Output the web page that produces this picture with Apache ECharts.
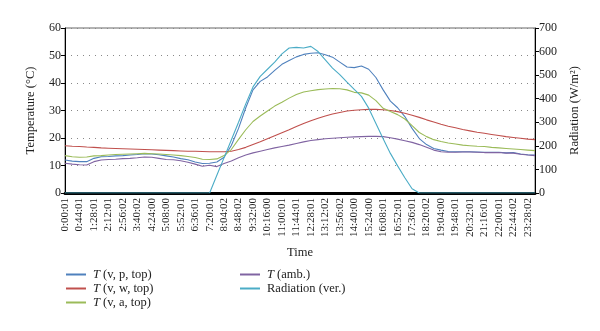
<!DOCTYPE html>
<html>
<head>
<meta charset="utf-8">
<script src="https://cdn.jsdelivr.net/npm/echarts@6/dist/echarts.min.js"></script>
<style>html,body{margin:0;padding:0;background:#fff}#c{width:600px;height:331px}</style>
</head>
<body>
<div id="c"></div>
<script>
// Time categories (22-minute steps); every other one is printed as a tick label
var categories = ["0:00:01","0:22:01","0:44:01","1:06:01","1:28:01","1:50:01","2:12:01","2:34:01","2:56:02","3:18:02","3:40:02","4:02:02","4:24:00","4:46:00","5:08:00","5:30:00","5:52:01","6:14:01","6:36:01","6:58:01","7:20:01","7:42:01","8:04:02","8:26:02","8:48:02","9:10:02","9:32:00","9:54:00","10:16:00","10:38:00","11:00:01","11:22:01","11:44:01","12:06:01","12:28:01","12:50:01","13:12:02","13:34:02","13:56:02","14:18:02","14:40:00","15:02:00","15:24:00","15:46:00","16:08:01","16:30:01","16:52:01","17:14:01","17:36:01","17:58:01","18:20:02","18:42:02","19:04:00","19:26:00","19:48:01","20:10:01","20:32:01","20:54:01","21:16:01","21:38:01","22:00:01","22:22:01","22:44:02","23:06:02","23:28:02","23:50:02"];

var tempTicks = [0, 10, 20, 30, 40, 50, 60];
var radTicks = [0, 100, 200, 300, 400, 500, 600, 700];

// T (v, p, top)
var tvp = [12.0,11.6,11.4,11.4,12.6,13.2,13.3,13.5,13.6,13.8,14.0,14.3,14.2,13.9,13.5,13.1,12.5,12.1,11.3,10.7,10.8,11.3,13.0,17.3,23.5,31.0,37.5,40.6,42.2,44.6,46.8,48.2,49.5,50.4,50.8,51.0,50.3,49.4,47.6,45.8,45.6,46.2,45.0,42.0,37.5,33.4,31.0,27.8,23.5,19.8,17.6,16.2,15.6,15.1,15.0,15.0,15.0,14.9,14.8,14.8,14.8,14.6,14.7,14.2,13.9,13.8];
// T (v, w, top)
var tvw = [17.2,17.0,16.9,16.7,16.6,16.4,16.3,16.2,16.1,16.0,15.9,15.8,15.7,15.6,15.5,15.4,15.3,15.2,15.2,15.1,15.0,15.0,15.0,15.2,15.8,16.6,17.6,18.6,19.7,20.8,21.9,23.0,24.2,25.3,26.3,27.2,28.0,28.7,29.3,29.8,30.1,30.3,30.4,30.4,30.3,30.0,29.6,29.0,28.3,27.5,26.6,25.8,25.0,24.3,23.7,23.1,22.6,22.1,21.7,21.3,20.9,20.5,20.2,19.9,19.6,19.4];
// T (v, a, top)
var tva = [13.6,13.2,13.0,13.1,13.5,13.6,13.8,14.0,14.1,14.2,14.3,14.4,14.3,14.2,14.0,13.8,13.6,13.3,12.9,12.3,12.2,12.4,13.6,15.8,19.5,23.0,26.0,28.0,29.8,31.6,33.0,34.5,35.8,36.7,37.2,37.6,37.8,38.0,37.9,37.5,36.6,36.4,35.6,33.6,30.8,29.6,28.5,26.9,24.5,22.0,20.5,19.4,18.7,18.2,17.8,17.4,17.2,17.0,16.9,16.6,16.4,16.2,16.0,15.8,15.6,15.4];
// T (amb.)
var tamb = [10.8,10.5,10.3,10.2,11.4,12.0,12.2,12.3,12.5,12.6,12.8,13.1,13.0,12.6,12.2,12.1,11.7,11.2,10.5,9.7,10.1,9.6,10.7,11.6,12.8,13.8,14.6,15.2,15.8,16.4,16.9,17.4,18.0,18.6,19.1,19.4,19.7,19.9,20.1,20.3,20.4,20.5,20.6,20.6,20.5,20.1,19.6,19.0,18.4,17.6,16.6,15.6,15.0,14.8,14.8,14.9,14.9,14.8,14.7,14.7,14.7,14.5,14.5,14.1,13.8,13.6];
// Radiation (ver.) W/m2
var rad = [0,0,0,0,0,0,0,0,0,0,0,0,0,0,0,0,0,0,0,0,0,75,150,225,300,378,450,495,525,555,590,615,618,615,622,600,565,530,502,470,440,410,360,295,230,168,115,65,18,0,0,0,0,0,0,0,0,0,0,0,0,0,0,0,0,0];

var seriesNames = ["{i|T} (v, p, top)", "{i|T} (v, w, top)", "{i|T} (v, a, top)", "{i|T} (amb.)", "Radiation (ver.)"];
var colors = ["#4F81BD", "#C0504D", "#9BBB59", "#8064A2", "#4BACC6"];

var FONT = "Liberation Serif";
var chart = echarts.init(document.getElementById('c'), null, {renderer: 'canvas'});

function mk(name, data, color, yIdx) {
  return {
    name: name, type: 'line', data: data, yAxisIndex: yIdx,
    showSymbol: false, symbol: 'none', smooth: false,
    lineStyle: {color: color, width: 1.1}, itemStyle: {color: color},
    emphasis: {disabled: true}, animation: false
  };
}

var legendText = {
  fontFamily: FONT, fontSize: 12.5, color: '#222', padding: [0, 0, 0, 2],
  rich: {i: {fontFamily: FONT, fontStyle: 'italic', fontSize: 12.5, color: '#222'}}
};

chart.setOption({
  animation: false,
  color: colors,
  grid: {left: 65, right: 65, top: 28, bottom: 138, show: true, borderColor: '#666', borderWidth: 1, backgroundColor: 'transparent'},
  legend: [
    {orient: 'vertical', left: 61, top: 263, itemWidth: 20, itemHeight: 2, itemGap: 1, icon: 'rect',
     data: [seriesNames[0], seriesNames[1], seriesNames[2]], textStyle: legendText, selectedMode: false},
    {orient: 'vertical', left: 235, top: 263, itemWidth: 20, itemHeight: 2, itemGap: 1, icon: 'rect',
     data: [seriesNames[3], seriesNames[4]], textStyle: legendText, selectedMode: false}
  ],
  xAxis: {
    type: 'category', data: categories, boundaryGap: false,
    name: 'Time', nameLocation: 'middle', nameGap: 53,
    nameTextStyle: {fontFamily: FONT, fontSize: 12.5, color: '#222'},
    axisLine: {lineStyle: {color: '#000', width: 3}},
    axisTick: {show: false},
    axisLabel: {interval: 1, rotate: 90, fontFamily: FONT, fontSize: 11, color: '#222', margin: 5},
    splitLine: {show: false}
  },
  yAxis: [
    {type: 'value', min: tempTicks[0], max: tempTicks[tempTicks.length - 1], interval: 10,
     name: 'Temperature (°C)', nameLocation: 'middle', nameGap: 28, nameRotate: 90,
     nameTextStyle: {fontFamily: FONT, fontSize: 12.5, color: '#222'},
     axisLine: {show: true, lineStyle: {color: '#000', width: 1}},
     axisTick: {show: true, length: 4, lineStyle: {color: '#000'}},
     axisLabel: {fontFamily: FONT, fontSize: 12, color: '#222', margin: 4},
     splitLine: {show: true, lineStyle: {color: '#888', type: [1, 5], width: 1}}},
    {type: 'value', min: radTicks[0], max: radTicks[radTicks.length - 1], interval: 100, position: 'right',
     name: 'Radiation (W/m²)', nameLocation: 'middle', nameGap: 32, nameRotate: 90,
     nameTextStyle: {fontFamily: FONT, fontSize: 12.5, color: '#222'},
     axisLine: {show: true, lineStyle: {color: '#000', width: 1}},
     axisTick: {show: true, length: 4, lineStyle: {color: '#000'}},
     axisLabel: {fontFamily: FONT, fontSize: 12, color: '#222', margin: 4},
     splitLine: {show: false}}
  ],
  series: [
    mk(seriesNames[0], tvp, colors[0], 0),
    mk(seriesNames[1], tvw, colors[1], 0),
    mk(seriesNames[2], tva, colors[2], 0),
    mk(seriesNames[3], tamb, colors[3], 0),
    mk(seriesNames[4], rad, colors[4], 1)
  ]
});
</script>
</body>
</html>
